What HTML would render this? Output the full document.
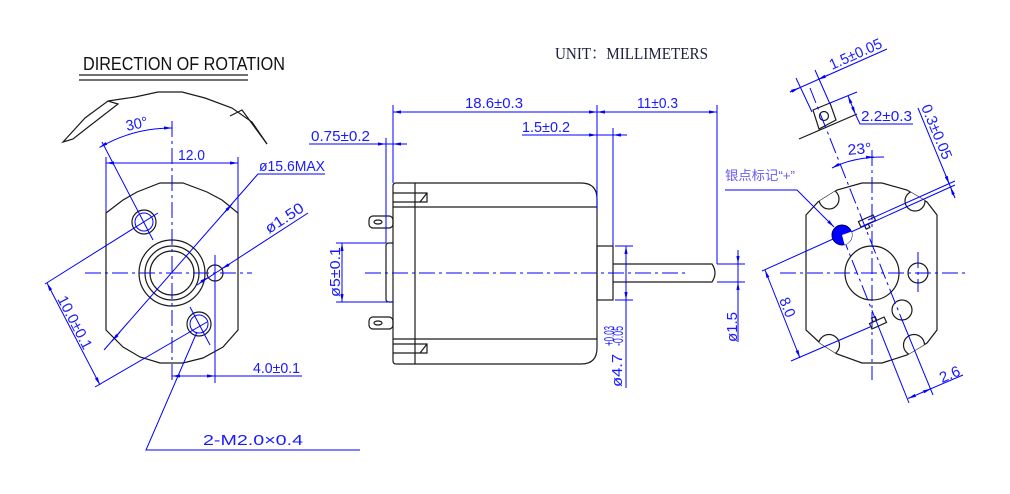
<!DOCTYPE html>
<html><head><meta charset="utf-8"><style>
html,body{margin:0;padding:0;background:#fff;}
svg{display:block}
text{font-family:"Liberation Sans","Noto Sans CJK SC",sans-serif;}
.b{stroke:#0000ff;stroke-width:1;fill:none}
.k{stroke:#1a1a1a;stroke-width:1.2;fill:none}
.c{stroke:#0000ff;stroke-width:1;fill:none;stroke-dasharray:16 4 3 4}
.t{fill:#1a1aff;font-size:15px}
</style></head><body>
<svg width="1010" height="494" viewBox="0 0 1010 494" xmlns="http://www.w3.org/2000/svg">
<defs>
<marker id="a" viewBox="0 0 10 4" refX="10" refY="2" markerWidth="9" markerHeight="3.2" markerUnits="userSpaceOnUse" orient="auto-start-reverse"><path d="M0,0L10,2L0,4z" fill="#0000ff"/></marker>
<clipPath id="rb"><polygon points="806,215 818,202 837,190 862,183 882,183 907,190 927,202 937,215 937,330 927,343 907,355 882,363 862,363 837,354 820,343 806,330"/></clipPath>
</defs>
<rect width="1010" height="494" fill="#fff"/>

<!-- ================= LEFT VIEW ================= -->
<text x="83" y="70" font-size="18" textLength="202" lengthAdjust="spacingAndGlyphs" fill="#111">DIRECTION OF ROTATION</text>
<path class="k" stroke-width="1" d="M79,75H248M79,80H248"/>

<path class="k" d="M108,101 L135,97 L158,92 L182,92 L205,98 L232,108 L252,122 L267,144"/>
<path class="k" d="M63,142 L85,118 L108,101 L118,104 L87,128 L73,139 Z"/>
<path class="k" d="M230,116 L242,110 L267,144"/>

<polygon class="k" points="106,213 123,200 137,192 160,183 183,183 207,192 222,200 238,213 238,330 223,347 203,358 183,363 160,363 140,357 123,347 106,330"/>
<circle class="k" cx="172" cy="273" r="33"/>
<circle class="k" cx="172" cy="273" r="27"/>
<circle class="k" cx="172" cy="273" r="22"/>
<circle class="k" cx="215" cy="273" r="8"/>
<circle class="k" cx="144" cy="222" r="12"/>
<circle class="b" cx="144" cy="222" r="9"/>
<circle class="k" cx="199" cy="324" r="12"/>
<circle class="b" cx="199" cy="324" r="9"/>

<path class="c" d="M85,273H252M172,121V383"/>
<path class="b" d="M102,142L153,240M190,307L210,345"/>
<path class="b" d="M99.5,147.4 A145,145 0 0 1 172,128" marker-start="url(#a)" marker-end="url(#a)"/>
<text class="t" x="127" y="131" transform="rotate(-12 127 131)" textLength="22" lengthAdjust="spacingAndGlyphs">30°</text>

<path class="b" d="M106,163H238" marker-start="url(#a)" marker-end="url(#a)"/>
<path class="b" d="M106,157V213M238,157V213"/>
<text class="t" x="178" y="160" textLength="27" lengthAdjust="spacingAndGlyphs">12.0</text>

<path class="b" d="M104,350L258,174H325"/>
<path class="b" d="M120,332L112,341" marker-end="url(#a)"/>
<path class="b" d="M225,212L232,204" marker-end="url(#a)"/>
<text class="t" x="259" y="171" textLength="66" lengthAdjust="spacingAndGlyphs">ø15.6MAX</text>

<path class="b" d="M197,285L308,213"/>
<path class="b" d="M230,264L221.7,268.6" marker-end="url(#a)"/>
<path class="b" d="M200,282.5L208.3,277.4" marker-end="url(#a)"/>
<text class="t" transform="translate(269,234) rotate(-33)" textLength="43" lengthAdjust="spacingAndGlyphs">ø1.50</text>

<path class="b" d="M158,213L45,284M207,322L95,387"/>
<path class="b" d="M47,283L100,385" marker-start="url(#a)" marker-end="url(#a)"/>
<text class="t" transform="translate(57,299) rotate(62.5)" textLength="58" lengthAdjust="spacingAndGlyphs">10.0±0.1</text>

<path class="b" d="M215,255V383"/>
<path class="b" d="M172,376H302" marker-start="url(#a)"/>
<path class="b" d="M205,376L215,376" marker-end="url(#a)"/>
<text class="t" x="253" y="373" textLength="47" lengthAdjust="spacingAndGlyphs">4.0±0.1</text>

<path class="b" d="M197,332L146,450H360"/>
<text class="t" x="203" y="445" font-size="16" textLength="100" lengthAdjust="spacingAndGlyphs">2-M2.0×0.4</text>

<!-- ================= MIDDLE VIEW ================= -->
<text x="555" y="59" font-size="17" fill="#202040" textLength="153" lengthAdjust="spacingAndGlyphs" style="font-family:'Liberation Serif','Noto Serif CJK SC',serif">UNIT：MILLIMETERS</text>

<path class="k" d="M396,183 H581 Q597,183 597,199 V348 Q597,364 581,364 H396 Q393,364 393,361 V186 Q393,183 396,183 Z"/>
<path class="k" d="M393,207H597M393,339H597M415,183V364"/>
<path class="k" stroke-width="1" d="M393,193H427V202H393M427,193L420,202M393,344H427V353H393M427,344L420,353"/>
<rect class="k" stroke-width="1" x="369" y="216" width="24" height="12" rx="4"/>
<ellipse class="k" stroke-width="1" cx="378" cy="222" rx="4" ry="2"/>
<rect class="k" stroke-width="1" x="369" y="317" width="24" height="12" rx="4"/>
<ellipse class="k" stroke-width="1" cx="378" cy="323" rx="4" ry="2"/>
<path class="k" d="M393,243H389Q386,243 386,246V299Q386,302 389,302H393"/>
<rect class="k" x="597" y="246" width="16" height="54"/>
<path class="k" d="M613,264H712Q718,273 712,282H613"/>

<path class="c" d="M365,273H685"/>
<path class="b" d="M393,105V183M597,105V210M717,105V264M613,128V246M386,138V243"/>
<path class="b" d="M393,112H597" marker-start="url(#a)" marker-end="url(#a)"/>
<path class="b" d="M597,112H717" marker-start="url(#a)" marker-end="url(#a)"/>
<text class="t" x="465" y="108" textLength="58" lengthAdjust="spacingAndGlyphs">18.6±0.3</text>
<text class="t" x="637" y="108" textLength="41" lengthAdjust="spacingAndGlyphs">11±0.3</text>

<path class="b" d="M522,135H627"/>
<path class="b" d="M587,135L597,135" marker-end="url(#a)"/>
<path class="b" d="M623,135L613,135" marker-end="url(#a)"/>
<text class="t" x="522" y="132" textLength="48" lengthAdjust="spacingAndGlyphs">1.5±0.2</text>

<path class="b" d="M309,144H407"/>
<path class="b" d="M376,144L386,144" marker-end="url(#a)"/>
<path class="b" d="M403,144L393,144" marker-end="url(#a)"/>
<text class="t" x="311" y="141" textLength="59" lengthAdjust="spacingAndGlyphs">0.75±0.2</text>

<path class="b" d="M336,243H386M336,302H393"/>
<path class="b" d="M342,243V302" marker-start="url(#a)" marker-end="url(#a)"/>
<text class="t" transform="translate(340,297) rotate(-90)" textLength="50" lengthAdjust="spacingAndGlyphs">ø5±0.1</text>

<path class="b" d="M615,246H633M615,300H633"/>
<path class="b" d="M626,246V388" marker-start="url(#a)"/>
<path class="b" d="M626,290L626,300" marker-end="url(#a)"/>
<text class="t" transform="translate(622,387) rotate(-90)" textLength="33" lengthAdjust="spacingAndGlyphs">ø4.7</text>
<text class="t" font-size="10" transform="translate(614,346) rotate(-90)" textLength="20" lengthAdjust="spacingAndGlyphs">+0.03</text>
<text class="t" font-size="10" transform="translate(623,346) rotate(-90)" textLength="20" lengthAdjust="spacingAndGlyphs">-0.05</text>

<path class="b" d="M717,264H745M717,282H745M738,250V342"/>
<path class="b" d="M738,254L738,264" marker-end="url(#a)"/>
<path class="b" d="M738,292L738,282" marker-end="url(#a)"/>
<text class="t" transform="translate(737,342) rotate(-90)" textLength="30" lengthAdjust="spacingAndGlyphs">ø1.5</text>

<!-- ================= RIGHT VIEW ================= -->
<polygon class="k" points="806,215 818,202 837,190 862,183 882,183 907,190 927,202 937,215 937,330 927,343 907,355 882,363 862,363 837,354 820,343 806,330"/>
<g clip-path="url(#rb)">
<circle cx="829" cy="199" r="10" fill="#fff" stroke="#1a1a1a" stroke-width="1.2"/>
<circle cx="915" cy="201" r="10" fill="#fff" stroke="#1a1a1a" stroke-width="1.2"/>
<circle cx="829" cy="345" r="10.5" fill="#fff" stroke="#1a1a1a" stroke-width="1.2"/>
<circle cx="914" cy="345" r="10.5" fill="#fff" stroke="#1a1a1a" stroke-width="1.2"/>
</g>
<circle class="k" cx="872" cy="273" r="27"/>
<circle class="k" cx="918" cy="273" r="10"/>
<circle class="k" cx="902" cy="310" r="10"/>
<g transform="rotate(-24 867 221)" class="k" stroke-width="1"><rect x="859" y="218" width="16" height="6"/><rect x="863" y="224" width="4" height="4"/></g>
<g transform="rotate(-24 878 323)" class="k" stroke-width="1"><rect x="870" y="320" width="16" height="6"/><rect x="874" y="316" width="4" height="4"/></g>

<polygon class="k" stroke-width="1" points="813,110 830,103 836,120 819,129"/>
<circle class="k" stroke-width="1" cx="824" cy="116" r="4.5"/>
<path class="k" d="M799,139L857,114"/>

<path class="c" d="M780,273H965M872,150V380M918,252V292"/>
<path class="c" d="M810,88L900,315"/>
<path class="b" d="M900,315L933,395"/>
<path class="c" d="M842,235L875,318"/>
<path class="b" d="M875,318L909,403"/>

<path class="b" d="M908,398.5L963,375" marker-start="url(#a)"/>
<path class="b" d="M922,392.5L931,388.7" marker-end="url(#a)"/>
<text class="t" transform="translate(942,383) rotate(-23)" textLength="21" lengthAdjust="spacingAndGlyphs">2.6</text>

<path class="b" d="M842,235L762,271M870,327L791,361"/>
<path class="b" d="M765,270L800,358" marker-start="url(#a)" marker-end="url(#a)"/>
<text class="t" transform="translate(779,300) rotate(67.7)" textLength="20" lengthAdjust="spacingAndGlyphs">8.0</text>

<path class="b" d="M851,232L955,185M868,220L955,181M918,108L955,198"/>
<path class="b" d="M945.6,175L949.2,183.9" marker-end="url(#a)"/>
<path class="b" d="M954,196L950.5,187" marker-end="url(#a)"/>
<text class="t" transform="translate(921,107) rotate(67.5)" textLength="58" lengthAdjust="spacingAndGlyphs">0.3±0.05</text>

<path class="b" d="M796,78L812,112M815,70L830,104M790,92L887,49"/>
<path class="b" d="M790,92L799,88" marker-end="url(#a)"/>
<path class="b" d="M828,75L818,79.6" marker-end="url(#a)"/>
<text class="t" transform="translate(832,70) rotate(-24)" textLength="56" lengthAdjust="spacingAndGlyphs">1.5±0.05</text>

<path class="b" d="M830,103L857,92"/>
<path class="b" d="M848,95.7L855.5,114.5" marker-start="url(#a)" marker-end="url(#a)"/>
<path class="b" d="M855.5,114.5L860,124H913"/>
<text class="t" x="861" y="121" textLength="51" lengthAdjust="spacingAndGlyphs">2.2±0.3</text>

<path class="b" d="M832,168Q853,157 884,157" marker-start="url(#a)"/>
<path class="b" d="M866,157.3L874,157" marker-end="url(#a)"/>
<text class="t" x="848" y="155" transform="rotate(-5 848 155)" textLength="24" lengthAdjust="spacingAndGlyphs">23°</text>

<text x="725" y="180" font-size="13" fill="#6a5af0" textLength="70" lengthAdjust="spacingAndGlyphs">银点标记“+”</text>
<path class="b" d="M725,190H797L834,227" marker-end="url(#a)"/>

<circle cx="842" cy="235" r="10" fill="#0000ff" stroke="#000060" stroke-width="1"/>
<path d="M842,235L851.4,231.6A10,10 0 0 1 844.6,244.7Z" fill="#fff"/>
</svg>
</body></html>
